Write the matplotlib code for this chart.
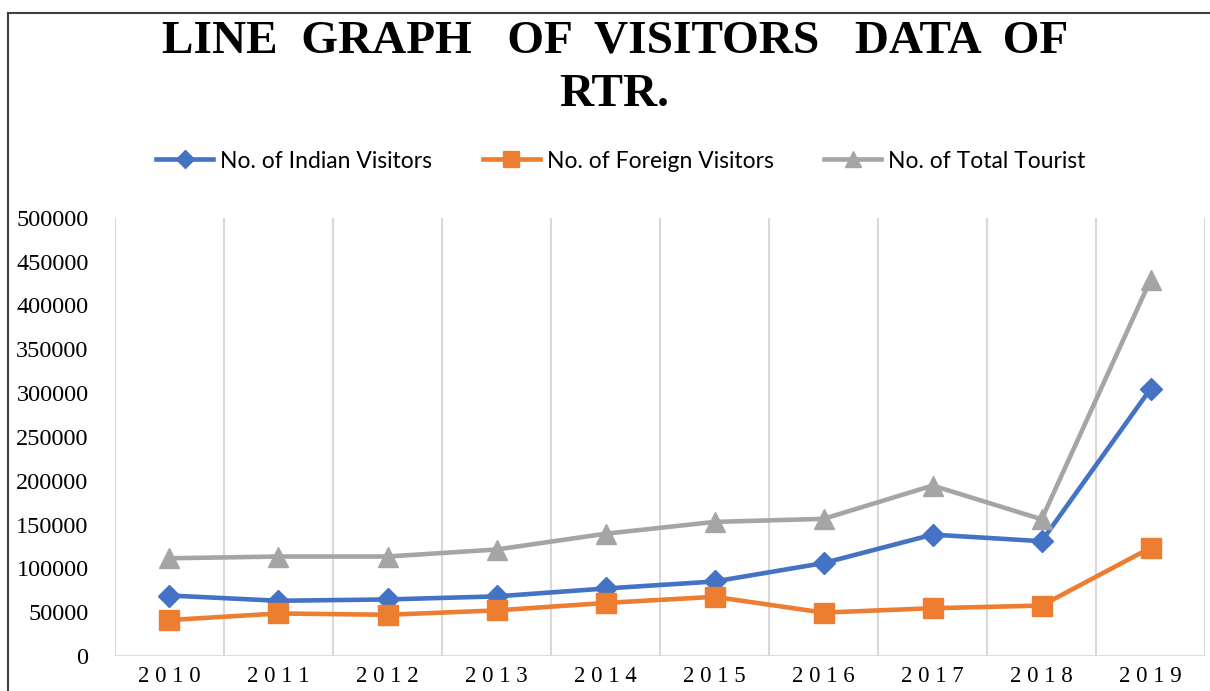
import matplotlib.pyplot as plt
from matplotlib.lines import Line2D

years = [2010, 2011, 2012, 2013, 2014, 2015, 2016, 2017, 2018, 2019]
indian = [69000, 63000, 64500, 68000, 77000, 85000, 106000, 138500, 131000, 305000]
foreign = [41000, 48500, 47000, 52000, 60500, 67500, 49500, 54500, 57500, 123500]
total = [111500, 113500, 113500, 121500, 139500, 153000, 156500, 194500, 156000, 429500]
yticks = [0, 50000, 100000, 150000, 200000, 250000, 300000, 350000, 400000, 450000, 500000]

fig = plt.figure(figsize=(12.1, 6.91), dpi=100)
ax = fig.add_axes([0.095, 0.0507, 0.901, 0.634])

x = list(range(len(years)))
ax.plot(x, indian, color='#4472C4', lw=3.3, marker='D', ms=11, label='No. of Indian Visitors', zorder=3)
ax.plot(x, foreign, color='#ED7D31', lw=3.3, marker='s', ms=15, label='No. of Foreign Visitors', zorder=3)
ax.plot(x, total, color='#A5A5A5', lw=3.3, marker='^', ms=15, label='No. of Total Tourist', zorder=3)

ax.set_xlim(-0.5, len(years) - 0.5)
ax.set_ylim(0, 500000)
ax.set_yticks(yticks)
ax.set_yticklabels([str(v) for v in yticks], fontfamily='Liberation Serif', fontsize=17.5)
ax.set_xticks(x)
ax.set_xticklabels([' '.join(str(y)) for y in years], fontfamily='Liberation Serif', fontsize=16.5)
# vertical gridlines between categories, like excel
for b in range(len(years) + 1):
    ax.axvline(b - 0.5, color='#D9D9D9', lw=1.5, zorder=1)
for s in ax.spines.values():
    s.set_visible(False)
ax.axhline(0, color='#D9D9D9', lw=2, zorder=1)
ax.tick_params(length=0)
ax.tick_params(axis='x', pad=7)
ax.tick_params(axis='y', pad=19)

fig.text(0.508, 0.94, 'LINE  GRAPH   OF  VISITORS   DATA  OF', ha='center', va='center',
         fontfamily='Liberation Serif', fontweight='bold', fontsize=34)
fig.text(0.508, 0.862, 'RTR.', ha='center', va='center',
         fontfamily='Liberation Serif', fontweight='bold', fontsize=34)

fig.legend(loc='center', bbox_to_anchor=(0.513, 0.767), ncol=3, frameon=False,
           prop={'family': 'Lato', 'size': 16.5}, handlelength=2.5, markerscale=0.8,
           handletextpad=0.3, columnspacing=2.2)

# outer chart border (only top and left visible in the crop)
fig.add_artist(Line2D([0.007, 0.007], [0, 0.981], color='#404040', lw=1.5, transform=fig.transFigure))
fig.add_artist(Line2D([0.007, 1.0], [0.981, 0.981], color='#404040', lw=1.5, transform=fig.transFigure))

fig.savefig('out.png', dpi=100)
